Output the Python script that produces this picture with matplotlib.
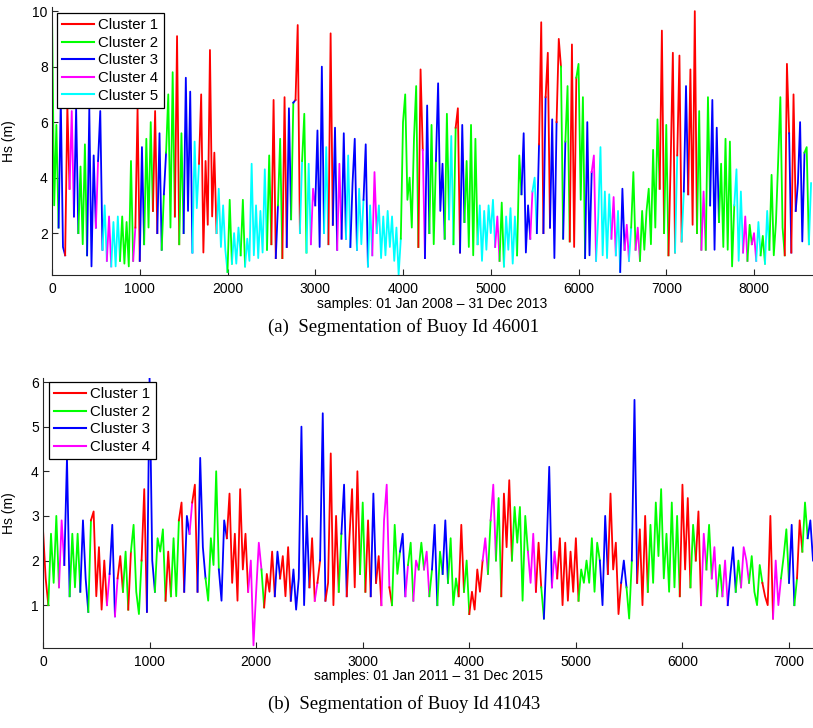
import numpy as np
import matplotlib.pyplot as plt
from matplotlib.lines import Line2D

plt.rcParams['font.family'] = ['Liberation Sans', 'DejaVu Sans']

STEP = 25  # samples between stored readings

# ---- (a) buoy 46001, Hs every 25 samples ----
hs_a = [
    10.0, 3.0, 5.9, 2.2, 6.8, 1.5, 1.2, 6.6, 3.6, 6.4, 2.6, 6.5, 2.0, 4.4, 1.6, 5.2, 1.2, 6.5, 0.8, 4.8,
    2.2, 4.6, 6.4, 1.4, 3.0, 1.0, 2.6, 0.8, 2.4, 0.8, 2.6, 1.0, 2.6, 0.9, 2.4, 0.8, 4.6, 1.0, 2.2, 6.5,
    1.0, 5.1, 1.6, 5.4, 2.2, 6.0, 2.8, 6.4, 2.0, 5.6, 1.4, 3.4, 4.9, 7.0, 2.2, 7.8, 2.6, 9.1, 1.6, 5.6,
    2.0, 7.6, 2.8, 7.1, 1.3, 5.3, 2.9, 4.5, 7.0, 1.3, 4.6, 2.3, 8.6, 2.6, 4.9, 2.0, 3.6, 1.5, 3.0, 1.4,
    0.6, 3.2, 0.9, 2.0, 0.9, 2.2, 1.2, 3.2, 0.8, 1.8, 1.0, 4.5, 1.2, 3.0, 1.1, 2.8, 1.3, 4.3, 1.4, 4.8,
    1.6, 6.8, 1.1, 3.0, 5.4, 1.1, 6.9, 1.5, 6.5, 2.5, 6.7, 6.8, 9.5, 2.0, 4.6, 6.3, 1.3, 4.5, 1.6, 3.6,
    3.0, 5.7, 1.5, 8.0, 2.0, 5.1, 1.6, 9.2, 2.3, 5.8, 1.4, 4.5, 1.8, 5.6, 1.8, 4.8, 1.5, 3.8, 5.4, 1.4,
    3.6, 1.6, 3.2, 5.2, 0.8, 3.0, 1.2, 4.2, 2.0, 3.0, 1.1, 2.6, 1.2, 2.8, 1.5, 2.6, 1.0, 2.2, 0.5, 1.8,
    6.0, 7.0, 3.2, 4.0, 2.2, 5.4, 7.3, 1.5, 7.9, 5.0, 1.1, 6.6, 2.0, 5.9, 1.6, 4.6, 7.4, 2.8, 4.5, 1.8,
    6.3, 2.5, 5.5, 1.6, 5.8, 6.5, 1.3, 5.9, 2.4, 4.6, 1.5, 5.9, 1.2, 5.4, 1.6, 3.0, 1.0, 2.8, 1.4, 3.0,
    2.0, 3.2, 1.5, 2.6, 1.0, 3.1, 0.8, 2.6, 1.4, 2.9, 0.9, 2.6, 1.2, 4.8, 3.4, 5.6, 1.3, 3.0, 1.8, 3.5,
    4.0, 2.0, 5.2, 9.6, 2.0, 6.9, 8.5, 2.2, 6.1, 1.1, 6.0, 9.0, 8.0, 1.8, 5.3, 7.3, 1.7, 8.8, 1.5, 7.6,
    8.1, 3.2, 6.9, 1.1, 6.0, 1.2, 4.2, 4.8, 1.0, 2.6, 5.1, 1.2, 3.5, 1.1, 3.4, 1.8, 3.3, 1.2, 2.8, 0.6,
    3.6, 1.4, 2.3, 1.0, 2.2, 4.2, 1.4, 2.2, 1.0, 2.8, 1.4, 2.8, 3.6, 1.6, 5.0, 2.2, 6.1, 3.6, 9.3, 2.0,
    5.9, 1.2, 4.5, 8.5, 1.3, 4.8, 8.4, 1.7, 3.5, 7.3, 3.4, 7.9, 2.3, 10.0, 2.0, 6.4, 1.4, 3.5, 1.4, 6.9,
    3.0, 6.8, 1.4, 5.8, 2.4, 4.5, 1.5, 5.4, 1.4, 5.3, 0.8, 3.0, 4.3, 1.0, 3.5, 1.3, 2.6, 1.0, 2.3, 1.6,
    2.0, 1.0, 2.4, 1.2, 1.9, 0.9, 2.8, 1.4, 4.1, 1.2, 2.4, 4.6, 6.9, 2.2, 1.2, 8.1, 5.6, 1.3, 7.0, 2.8,
    3.8, 6.0, 1.7, 4.9, 5.1, 1.6, 3.8,
]
clusters_a = (
    "2222331144" "5352522343" "3435554455" "5225222241"
    "1322523133" "3232224122" "2353252511" "1511155555"
    "2225554255" "5555555542" "5113231233" "2313522544"
    "3323353113" "4433454334" "5553355445" "5555454555"
    "2252522114" "3342223533" "2353211352" "2252555545"
    "5554522545" "5552433354" "5531131133" "3123321111"
    "2321353425" "5555544455" "3545525442" "4222222411"
    "2511451153" "1111325442" "3333525252" "5255554524"
    "4554255424" "2222113314" "3333235"
)

# ---- (b) buoy 41043 ----
hs_b = [
    2.7, 1.6, 1.0, 2.6, 1.5, 3.0, 1.4, 2.9, 1.9, 4.3, 1.2, 2.6, 1.4, 2.6, 1.3, 2.9, 1.6, 0.85, 2.9, 3.1,
    1.2, 2.3, 0.9, 2.0, 1.0, 1.7, 2.8, 0.75, 1.6, 2.1, 1.3, 2.2, 0.9, 2.2, 2.8, 1.3, 0.8, 2.0, 3.6, 0.85,
    6.1, 2.0, 1.3, 2.5, 2.2, 2.7, 1.1, 2.2, 1.2, 2.5, 1.2, 2.9, 3.3, 1.3, 3.0, 2.6, 3.3, 3.7, 1.3, 4.3,
    2.3, 1.6, 1.1, 2.5, 1.9, 4.0, 1.8, 1.1, 2.9, 2.5, 3.5, 1.5, 2.6, 1.1, 3.6, 1.8, 2.6, 1.3, 2.0, 0.1,
    1.3, 2.4, 1.8, 0.95, 1.7, 1.3, 2.2, 1.2, 2.2, 1.6, 2.1, 1.2, 2.3, 1.1, 1.8, 0.9, 1.6, 5.0, 1.0, 3.0,
    1.4, 2.5, 1.1, 1.5, 2.0, 5.3, 1.1, 1.5, 4.4, 1.0, 3.0, 1.3, 2.6, 3.7, 1.2, 2.5, 3.6, 1.4, 4.0, 1.7,
    3.3, 1.3, 2.9, 1.2, 3.5, 1.5, 2.1, 1.0, 2.9, 3.7, 1.4, 1.0, 2.8, 1.7, 2.2, 2.6, 1.2, 1.9, 2.4, 1.1,
    2.0, 1.8, 2.4, 1.8, 2.2, 1.2, 1.8, 2.8, 1.0, 2.2, 1.7, 2.9, 1.5, 2.5, 1.0, 1.6, 1.2, 2.8, 1.3, 2.0,
    0.8, 1.3, 0.9, 1.8, 1.3, 2.0, 2.5, 1.7, 2.9, 3.7, 2.0, 3.4, 1.2, 3.5, 2.3, 3.8, 2.0, 3.2, 2.4, 3.2,
    1.1, 3.0, 2.2, 1.5, 2.6, 1.3, 2.4, 1.4, 0.7, 2.2, 4.1, 1.4, 2.2, 1.6, 2.5, 1.0, 2.4, 1.1, 2.2, 1.3,
    2.5, 1.1, 1.8, 1.5, 2.0, 1.5, 2.5, 1.3, 2.4, 2.0, 1.0, 3.0, 1.7, 3.5, 1.8, 2.4, 0.8, 1.5, 2.0, 1.4,
    0.7, 2.0, 5.6, 1.5, 2.7, 1.0, 3.0, 1.3, 2.8, 1.5, 3.3, 2.1, 3.6, 1.6, 2.6, 1.3, 3.3, 1.4, 3.0, 1.2,
    3.7, 1.8, 3.4, 1.4, 2.8, 2.0, 3.1, 1.0, 2.6, 1.8, 2.8, 1.6, 2.3, 1.2, 1.9, 1.2, 2.0, 1.0, 1.7, 2.3,
    1.3, 2.0, 1.4, 2.3, 2.0, 1.5, 2.1, 1.3, 1.0, 1.9, 1.5, 1.2, 1.0, 3.0, 0.7, 2.0, 1.0, 1.6, 2.1, 2.7,
    1.5, 2.8, 1.0, 1.6, 2.9, 2.2, 3.3, 2.5, 2.9, 2.0,
]
clusters_b = (
    "1112222443" "4222333121" "1111443241" "1211222211"
    "3322122122" "1212344113" "3212223331" "1211121144"
    "4422111132" "1111333333" "1144132111" "1223111112"
    "2113331144" "1222232422" "4424442322" "2322121112"
    "1111214224" "2211113222" "2244411233" "3441111211"
    "1422222223" "3321111132" "1231111224" "2224222221"
    "1112211242" "2142224333" "2224422222" "1111144422"
    "2332142232"
)

labels_a = ['Cluster 1', 'Cluster 2', 'Cluster 3', 'Cluster 4', 'Cluster 5']
labels_b = ['Cluster 1', 'Cluster 2', 'Cluster 3', 'Cluster 4']
xlabel_a = 'samples: 01 Jan 2008 \u2013 31 Dec 2013'
xlabel_b = 'samples: 01 Jan 2011 \u2013 31 Dec 2015'
caption_a = '(a)  Segmentation of Buoy Id 46001'
caption_b = '(b)  Segmentation of Buoy Id 41043'

kolor = {1: '#ff0000', 2: '#00ff00', 3: '#0000ff', 4: '#ff00ff', 5: '#00ffff'}


def draw_series(ax, hs, clusters, labels):
    y = np.asarray(hs, dtype=float)
    lab = np.array([int(c) for c in clusters])
    x = np.arange(len(y)) * STEP
    # each stroke takes the colour of its higher end, so a spike is one colour
    seg = np.where(y[:-1] >= y[1:], lab[:-1], lab[1:])
    start = 0
    for i in range(1, len(seg) + 1):
        if i == len(seg) or seg[i] != seg[start]:
            ax.plot(x[start:i + 1], y[start:i + 1], color=kolor[seg[start]], lw=1.3)
            start = i
    handles = [Line2D([], [], color=kolor[k + 1], lw=1.5) for k in range(len(labels))]
    return handles


def style_axes(ax):
    for s in ['top', 'right']:
        ax.spines[s].set_visible(False)
    for s in ['left', 'bottom']:
        ax.spines[s].set_color('#262626')
        ax.spines[s].set_linewidth(0.8)
    ax.tick_params(direction='in', length=4, width=0.8, labelsize=10,
                   colors='#262626', labelcolor='black')
    ax.tick_params(axis='x', pad=5)
    ax.tick_params(axis='y', pad=3)


fig = plt.figure(figsize=(8.13, 7.28), dpi=100)
W, H = 813.0, 728.0

ax1 = fig.add_axes([52 / W, 1 - 275 / H, (813 - 52) / W, (275 - 7) / H])
h1 = draw_series(ax1, hs_a, clusters_a, labels_a)
ax1.set_xlim(0, 8672)
ax1.set_ylim(0.49, 10.15)
ax1.set_xticks(np.arange(0, 8001, 1000))
ax1.set_yticks([2, 4, 6, 8, 10])
style_axes(ax1)
ax1.set_ylabel('Hs (m)', fontsize=10)
ax1.yaxis.set_label_coords((16 - 52) / 761, 0.5)
leg1 = ax1.legend(h1, labels_a, loc='upper left', bbox_to_anchor=(5 / 761, 1 - 6 / 268),
                  borderaxespad=0, fontsize=10.8, handlelength=2.1, handletextpad=0.3,
                  labelspacing=0.24, borderpad=0.35, fancybox=False, framealpha=1)
leg1.get_frame().set_edgecolor('black')
leg1.get_frame().set_linewidth(0.9)

ax2 = fig.add_axes([43 / W, 1 - 648 / H, (813 - 43) / W, (648 - 378) / H])
h2 = draw_series(ax2, hs_b, clusters_b, labels_b)
ax2.set_xlim(0, 7225)
ax2.set_ylim(0.04, 6.09)
ax2.set_xticks(np.arange(0, 7001, 1000))
ax2.set_yticks([1, 2, 3, 4, 5, 6])
style_axes(ax2)
ax2.set_ylabel('Hs (m)', fontsize=10)
ax2.yaxis.set_label_coords((16 - 43) / 770, 0.5)
leg2 = ax2.legend(h2, labels_b, loc='upper left', bbox_to_anchor=(6 / 770, 1 - 4 / 270),
                  borderaxespad=0, fontsize=10.8, handlelength=2.1, handletextpad=0.3,
                  labelspacing=0.24, borderpad=0.35, fancybox=False, framealpha=1)
leg2.get_frame().set_edgecolor('black')
leg2.get_frame().set_linewidth(0.9)

fig.text(432 / W, 1 - 304 / H, xlabel_a, ha='center', va='center', fontsize=10)
fig.text(428 / W, 1 - 676 / H, xlabel_b, ha='center', va='center', fontsize=10)
fig.text(404 / W, 1 - 327 / H, caption_a, ha='center', va='center', fontsize=13.5,
         family='Liberation Serif')
fig.text(404 / W, 1 - 704 / H, caption_b, ha='center', va='center', fontsize=13.5,
         family='Liberation Serif')

fig.savefig('out.png', dpi=100)
